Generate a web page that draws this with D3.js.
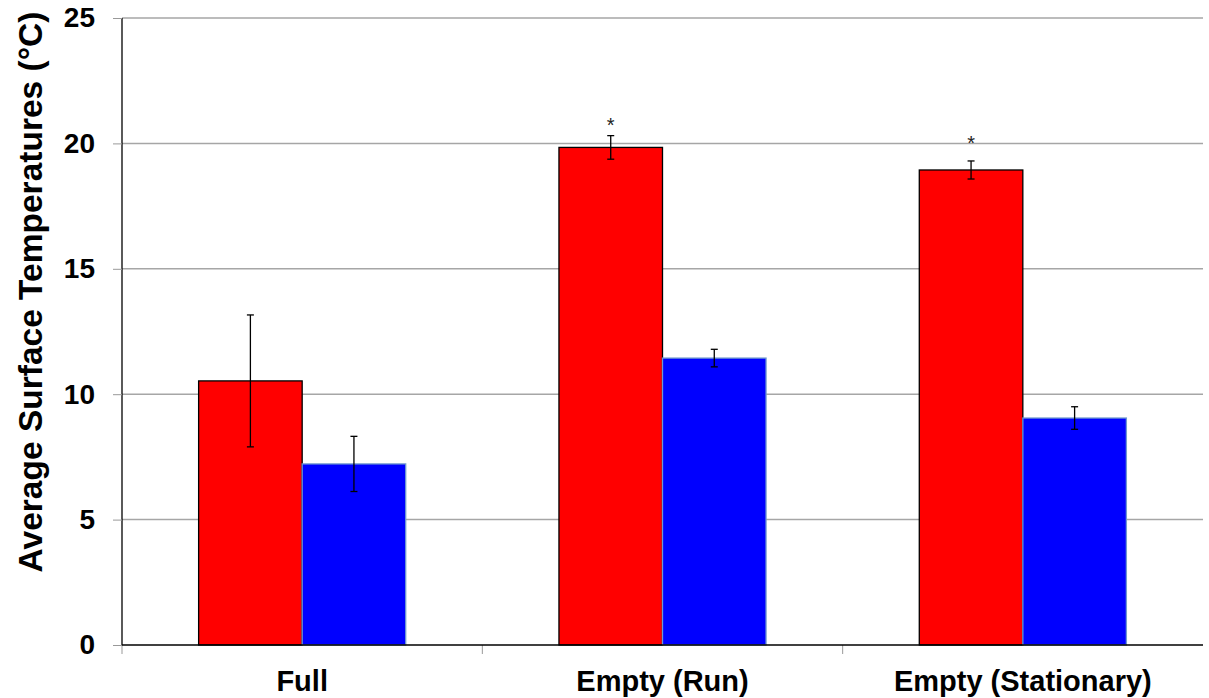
<!DOCTYPE html>
<html>
<head>
<meta charset="utf-8">
<script src="https://cdn.jsdelivr.net/npm/d3@7"></script>
<style>
  html, body { margin: 0; padding: 0; background: #fff; }
  svg { display: block; font-family: Arial, "Liberation Sans", sans-serif; }
</style>
</head>
<body>
<svg id="chart" width="1209" height="698"></svg>
<script>
// Mean surface temperatures per condition, two series, with error bars
const categories = ["Full", "Empty (Run)", "Empty (Stationary)"];
const seriesNames = ["Red", "Blue"];
const redValues = [10.53, 19.84, 18.94];
const redErrors = [2.63, 0.47, 0.36];
const blueValues = [7.22, 11.44, 9.05];
const blueErrors = [1.1, 0.35, 0.45];
// Level (in °C) at which a significance asterisk is centred; null = none
const significanceLevel = [null, 20.9, 20.2];
const yTicks = [0, 5, 10, 15, 20, 25];
const yTitle = "Average Surface Temperatures (°C)";

const seriesStyle = {
  Red: { fill: "#ff0000", stroke: "#000000" },
  Blue: { fill: "#0000ff", stroke: "#6f98cf" }
};

const svg = d3.select("#chart");
const plotLeft = 122, plotRight = 1203, plotTop = 18, plotBottom = 645;

const y = d3.scaleLinear().domain([0, 25]).range([plotBottom, plotTop]);
const x0 = d3.scaleBand().domain(categories).range([plotLeft, plotRight]).padding(0);
const x1 = d3.scaleBand().domain(seriesNames).range([0, x0.bandwidth()])
  .paddingInner(0).paddingOuter(0.74);

const rows = categories.map((c, i) => ({
  category: c,
  sig: significanceLevel[i],
  bars: [
    { series: "Red", value: redValues[i], err: redErrors[i] },
    { series: "Blue", value: blueValues[i], err: blueErrors[i] }
  ]
}));

// Horizontal gridlines
svg.append("g")
  .selectAll("line")
  .data(yTicks.filter(t => t > 0))
  .join("line")
  .attr("x1", plotLeft).attr("x2", plotRight)
  .attr("y1", d => y(d)).attr("y2", d => y(d))
  .attr("stroke", "#a6a6a6").attr("stroke-width", 1.5);

// Y axis
const yAxis = svg.append("g")
  .attr("transform", `translate(${plotLeft},0)`)
  .call(d3.axisLeft(y).tickValues(yTicks).tickSize(9).tickPadding(18).tickFormat(d3.format("d")));
yAxis.select(".domain").attr("stroke", "#000").attr("stroke-width", 1.3).attr("d", `M0,${plotTop}V${plotBottom}`);
yAxis.selectAll(".tick line").attr("stroke", "#999");
yAxis.selectAll(".tick text")
  .attr("font-size", 28).attr("font-weight", "bold").attr("fill", "#000")
  .attr("font-family", "Arial, 'Liberation Sans', sans-serif");

// X axis with ticks between categories
const xAxis = svg.append("g").attr("transform", `translate(0,${plotBottom})`);
const boundaries = categories.map(c => x0(c));
xAxis.selectAll("line.tk")
  .data(boundaries)
  .join("line").attr("class", "tk")
  .attr("x1", d => d).attr("x2", d => d)
  .attr("y1", 0).attr("y2", 9)
  .attr("stroke", "#999");
xAxis.selectAll("text")
  .data(categories)
  .join("text")
  .attr("x", d => x0(d) + x0.bandwidth() / 2)
  .attr("y", 46)
  .attr("text-anchor", "middle")
  .attr("font-size", 29).attr("font-weight", "bold").attr("fill", "#000")
  .text(d => d);

// Bars
const groups = svg.append("g").selectAll("g")
  .data(rows)
  .join("g")
  .attr("transform", d => `translate(${x0(d.category)},0)`);

groups.selectAll("rect")
  .data(d => d.bars)
  .join("rect")
  .attr("x", d => x1(d.series))
  .attr("y", d => y(d.value))
  .attr("width", x1.bandwidth())
  .attr("height", d => y(0) - y(d.value))
  .attr("fill", d => seriesStyle[d.series].fill)
  .attr("stroke", d => seriesStyle[d.series].stroke)
  .attr("stroke-width", 1.3);

// Baseline drawn over the bars
svg.append("line")
  .attr("x1", plotLeft).attr("x2", plotRight)
  .attr("y1", plotBottom).attr("y2", plotBottom)
  .attr("stroke", "#000").attr("stroke-width", 1.3);

// Error bars
const capHalf = 3.5;
const eb = groups.selectAll("g.err")
  .data(d => d.bars)
  .join("g").attr("class", "err")
  .attr("transform", d => `translate(${x1(d.series) + x1.bandwidth() / 2},0)`)
  .attr("stroke", "#000").attr("stroke-width", 1.3);
eb.append("line")
  .attr("x1", 0).attr("x2", 0)
  .attr("y1", d => y(d.value + d.err)).attr("y2", d => y(d.value - d.err));
eb.append("line")
  .attr("x1", -capHalf).attr("x2", capHalf)
  .attr("y1", d => y(d.value + d.err)).attr("y2", d => y(d.value + d.err));
eb.append("line")
  .attr("x1", -capHalf).attr("x2", capHalf)
  .attr("y1", d => y(d.value - d.err)).attr("y2", d => y(d.value - d.err));

// Significance markers (asterisk glyph centre sits ~0.57em above its baseline)
const starSize = 20;
groups.filter(d => d.sig !== null)
  .append("text")
  .attr("x", x1("Red") + x1.bandwidth() / 2)
  .attr("y", d => y(d.sig) + starSize * 0.57)
  .attr("text-anchor", "middle")
  .attr("font-size", starSize).attr("fill", "#222")
  .text("*");

// Y title
svg.append("text")
  .attr("transform", `translate(42,292) rotate(-90)`)
  .attr("text-anchor", "middle")
  .attr("font-size", 33.5).attr("font-weight", "bold").attr("fill", "#000")
  .text(yTitle);
</script>
</body>
</html>
